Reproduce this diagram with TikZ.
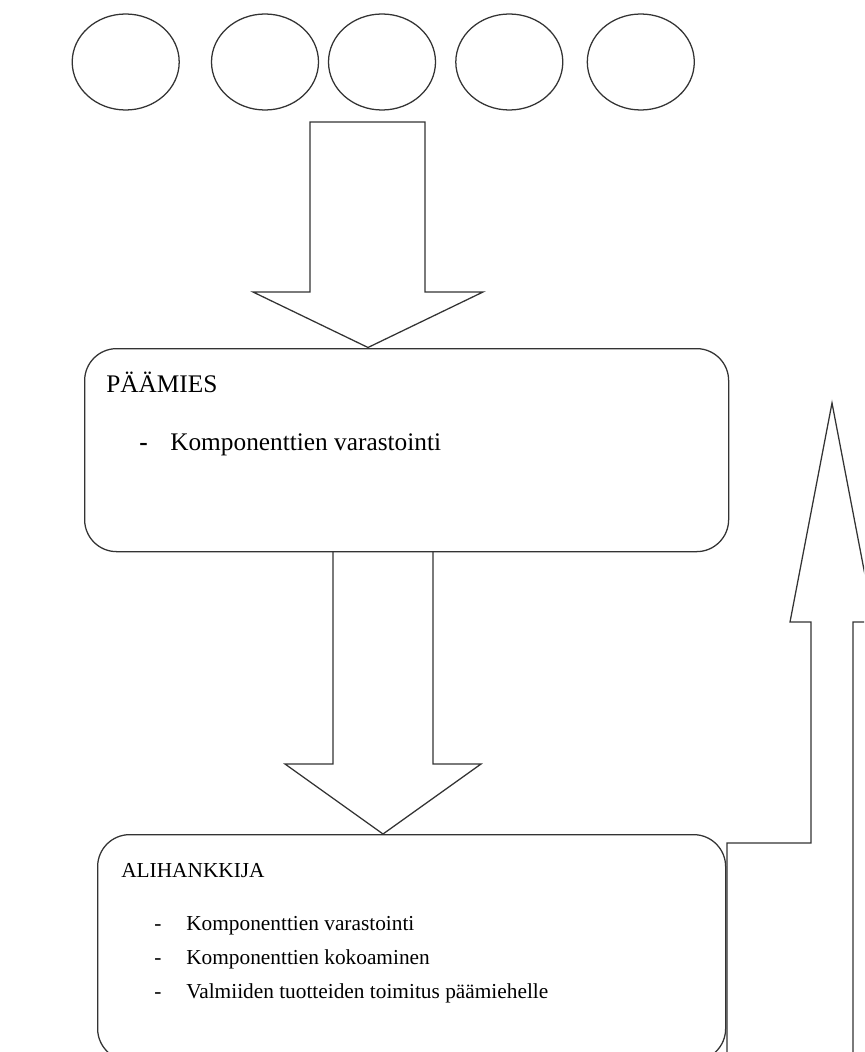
\documentclass[tikz,border=0pt]{standalone}
\usepackage{fontspec}
\setmainfont{Liberation Serif}
\usetikzlibrary{shapes.geometric}
\begin{document}
\begin{tikzpicture}[x=0.75pt,y=-0.75pt,
  outline/.style={draw=black!80, line width=0.95pt, line join=miter},
  bubble/.style={outline, ellipse, minimum width=80.25pt, minimum height=72pt, inner sep=0pt},
  panel/.style={outline, rectangle, rounded corners=24pt, anchor=north west, inner sep=0pt},
  bigtext/.style={anchor=base west, inner sep=0pt, font=\fontsize{19}{23}\selectfont},
  smalltext/.style={anchor=base west, inner sep=0pt, font=\fontsize{16}{19}\selectfont}]
  % page frame
  \useasboundingbox (0,0) rectangle (864,1052);
  \clip (0,0) rectangle (864,1052);

  % row of empty bubbles
  \node[bubble] (c1) at (125.7,62) {};
  \node[bubble] (c2) at (265,62) {};
  \node[bubble] (c3) at (382,62) {};
  \node[bubble] (c4) at (509.3,62) {};
  \node[bubble] (c5) at (640.8,62) {};

  % the two parties
  \node[panel, minimum width=483pt, minimum height=152.25pt] (paamies) at (84,348) {};
  \node[panel, minimum width=471pt, minimum height=169.5pt] (alihankkija) at (97,834) {};

  % texts of the upper panel
  \node[bigtext] (t1) at (106,392) {PÄÄMIES};
  \node[bigtext] (d1) at (139,450) {\textbf{-}};
  \node[bigtext] (t2) at (170,450) {Komponenttien varastointi};

  % texts of the lower panel
  \node[smalltext] (t3) at (121,877) {ALIHANKKIJA};
  \node[smalltext] (d2) at (154,930) {-};
  \node[smalltext] (t4) at (186,930) {Komponenttien varastointi};
  \node[smalltext] (d3) at (154,964) {-};
  \node[smalltext] (t5) at (186,964) {Komponenttien kokoaminen};
  \node[smalltext] (d4) at (154,998) {-};
  \node[smalltext] (t6) at (186,998) {Valmiiden tuotteiden toimitus päämiehelle};

  % tips of the block arrows
  \coordinate (tipA) at (368,347.5);
  \coordinate (tipB) at (383,834);
  \coordinate (tipC) at (832,403);

  % block arrow from the bubbles to the principal
  \draw[outline] (310,122) -- (425,122) -- (425,292) -- (483,292) -- (tipA)
    -- (253,292) -- (310,292) -- cycle;

  % block arrow from the principal to the subcontractor
  \draw[outline] (333,551) -- (333,764) -- (285,764) -- (tipB)
    -- (481,764) -- (433,764) -- (433,551);

  % return arrow on the right
  \draw[outline] (727,1070) -- (727,843) -- (811,843) -- (811,622) -- (790,622)
    -- (tipC) -- (874,622) -- (853,622) -- (853,1070);
\end{tikzpicture}
\end{document}
